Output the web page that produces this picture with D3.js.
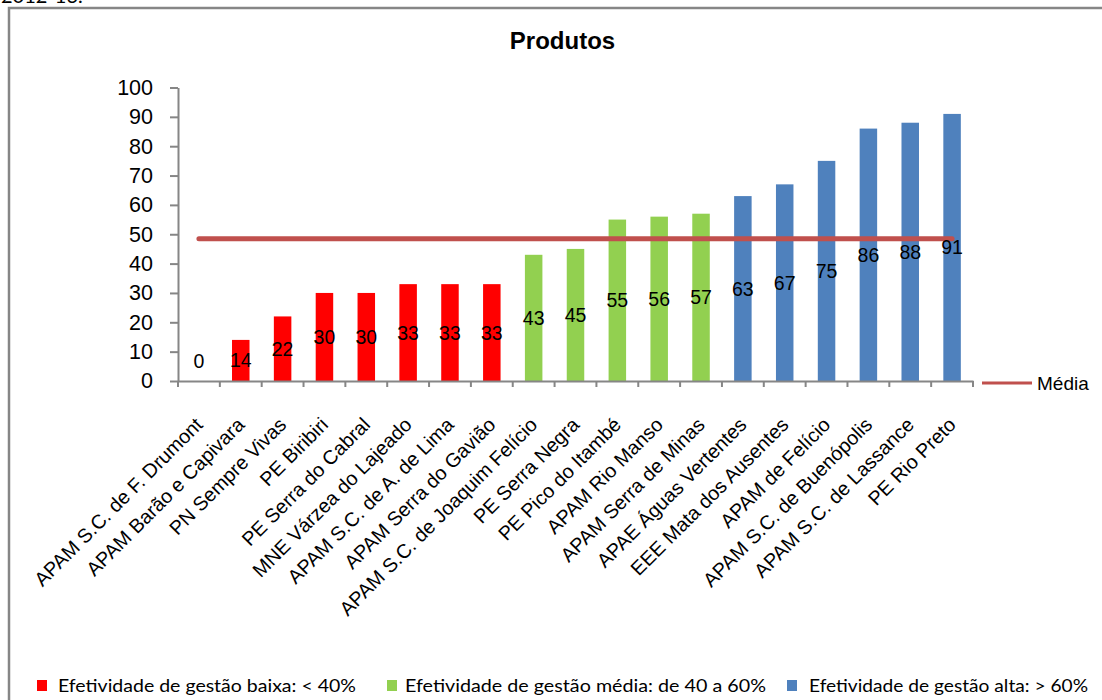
<!DOCTYPE html>
<html>
<head>
<meta charset="utf-8">
<script src="https://cdn.jsdelivr.net/npm/d3@7"></script>
<style>
  html, body { margin: 0; padding: 0; background: #fff; }
  svg { display: block; }
</style>
</head>
<body>
<svg id="chart" width="1102" height="700"></svg>
<script>
// ---- data ----
const categories = [
  "APAM S.C. de F. Drumont",
  "APAM Barão e Capivara",
  "PN Sempre Vivas",
  "PE Biribiri",
  "PE Serra do Cabral",
  "MNE Várzea do Lajeado",
  "APAM S.C. de A. de Lima",
  "APAM Serra do Gavião",
  "APAM S.C. de Joaquim Felício",
  "PE Serra Negra",
  "PE Pico do Itambé",
  "APAM Rio Manso",
  "APAM Serra de Minas",
  "APAE Águas  Vertentes",
  "EEE Mata dos Ausentes",
  "APAM de Felício",
  "APAM S.C. de Buenópolis",
  "APAM S.C. de Lassance",
  "PE Rio Preto"
];
const values = [0, 14, 22, 30, 30, 33, 33, 33, 43, 45, 55, 56, 57, 63, 67, 75, 86, 88, 91];
const groups = ["baixa","baixa","baixa","baixa","baixa","baixa","baixa","baixa",
                "media","media","media","media","media",
                "alta","alta","alta","alta","alta","alta"];
const mediaValue = 48.5;
const yTicks = [0, 10, 20, 30, 40, 50, 60, 70, 80, 90, 100];
const legendKeys = ["baixa", "media", "alta"];
const legendLabels = [
  "Efetividade de gestão baixa: < 40%",
  "Efetividade de gestão média: de 40 a 60%",
  "Efetividade de gestão alta: > 60%"
];
const titleText = "Produtos";
const mediaLabel = "Média";
const headerText = "2012-13.";

// ---- styles ----
const colors = { baixa: "#FF0000", media: "#92D050", alta: "#4F81BD" };
const mediaColor = "#C0504D";
const axisColor = "#868686";

const svg = d3.select("#chart");

// partially visible header text (cut at top edge, as in the source)
svg.append("text").attr("x", 1).attr("y", 3)
  .attr("font-family", "Lato, 'Open Sans', sans-serif").attr("font-size", 20)
  .attr("fill", "#000").text(headerText);

// frame
svg.append("rect").attr("x", 9).attr("y", 8).attr("width", 1110).attr("height", 710)
  .attr("fill", "none").attr("stroke", axisColor).attr("stroke-width", 2.5);

// scales
const x = d3.scaleBand().domain(categories).range([178, 973]).padding(0);
const y = d3.scaleLinear().domain([0, 100]).range([381, 87.5]);
const barW = 17.5;
const cx = d => x(d) + x.bandwidth() / 2;

// title
svg.append("text").attr("x", 562.5).attr("y", 49)
  .attr("text-anchor", "middle").attr("font-family", "'Liberation Sans', Arial, sans-serif")
  .attr("font-weight", "bold").attr("font-size", 24).text(titleText);

// y axis
const yAxis = d3.axisLeft(y).tickValues(yTicks).tickSize(8).tickPadding(17).tickSizeOuter(0);
const gy = svg.append("g").attr("transform", "translate(178,0)").call(yAxis);
gy.select(".domain").attr("stroke", axisColor).attr("stroke-width", 2);
gy.selectAll(".tick line").attr("stroke", axisColor).attr("stroke-width", 2);
gy.selectAll(".tick text").attr("font-family", "'Liberation Sans', Arial, sans-serif")
  .attr("font-size", 21.5).attr("fill", "#000");

// bars
const data = categories.map((c, i) => ({ c, v: values[i], g: groups[i] }));
svg.append("g").selectAll("rect").data(data).join("rect")
  .attr("x", d => cx(d.c) - barW / 2)
  .attr("y", d => y(d.v))
  .attr("width", barW)
  .attr("height", d => y(0) - y(d.v))
  .attr("fill", d => colors[d.g]);

// x axis
const xAxis = d3.axisBottom(x).tickSize(0).tickFormat("").tickSizeOuter(0);
const gx = svg.append("g").attr("transform", `translate(0,${y(0)})`).call(xAxis);
gx.select(".domain").attr("stroke", axisColor).attr("stroke-width", 2);
const boundaries = categories.map(c => x(c)).concat([x.range()[1]]);
gx.selectAll("line.bt").data(boundaries).join("line").attr("class", "bt")
  .attr("x1", d => d).attr("x2", d => d).attr("y1", 0).attr("y2", 6)
  .attr("stroke", axisColor).attr("stroke-width", 2);

// category labels
svg.append("g").selectAll("text").data(categories).join("text")
  .attr("transform", d => `translate(${cx(d) + 5},${y(0) + 45}) rotate(-45)`)
  .attr("text-anchor", "end")
  .attr("font-family", "'Liberation Sans', Arial, sans-serif")
  .attr("font-size", 19.8).attr("fill", "#000").text(d => d);

// mean line
const line = d3.line().x(d => cx(d)).y(() => y(mediaValue));
svg.append("path").datum(categories).attr("d", line)
  .attr("fill", "none").attr("stroke", mediaColor).attr("stroke-width", 5)
  .attr("stroke-linecap", "round");

// data labels
svg.append("g").selectAll("text").data(data).join("text")
  .attr("x", d => cx(d.c))
  .attr("y", d => Math.min((y(d.v) + y(0)) / 2, y(0) - 20))
  .attr("dy", "0.36em")
  .attr("text-anchor", "middle")
  .attr("font-family", "'Liberation Sans', Arial, sans-serif")
  .attr("font-size", 19.5).attr("fill", "#000").text(d => d.v);

// Média legend
svg.append("line").attr("x1", 982).attr("x2", 1032).attr("y1", 383).attr("y2", 383)
  .attr("stroke", mediaColor).attr("stroke-width", 3);
svg.append("text").attr("x", 1037).attr("y", 390)
  .attr("font-family", "'Liberation Sans', Arial, sans-serif")
  .attr("font-size", 19).attr("fill", "#000").text(mediaLabel);

// bottom legend
const legX = [37, 387, 787];
const legTextX = [58, 405, 809];
const legTextW = [298, 361, 279];
const lg = svg.append("g");
legendKeys.forEach((k, i) => {
  lg.append("rect").attr("x", legX[i]).attr("y", 680).attr("width", 10).attr("height", 11)
    .attr("fill", colors[k]);
  lg.append("text").attr("x", legTextX[i]).attr("y", 692)
    .attr("font-family", "Lato, 'Open Sans', sans-serif").attr("font-size", 18)
    .attr("textLength", legTextW[i]).attr("lengthAdjust", "spacingAndGlyphs")
    .attr("fill", "#000").text(legendLabels[i]);
});
</script>
</body>
</html>
